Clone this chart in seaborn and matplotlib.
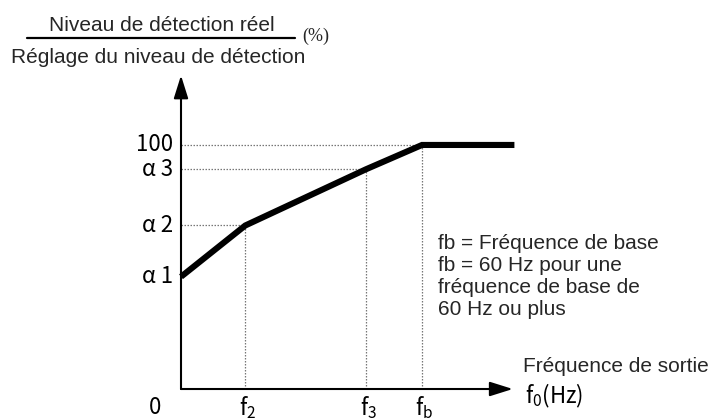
import matplotlib
matplotlib.use("Agg")
import matplotlib.pyplot as plt
import seaborn as sns
import pandas as pd

# Characteristic curve: detection level ratio vs output frequency
freq_points = [0, 16, 46, 60, 83]          # 0, f2, f3, fb, end of flat part (Hz)
level_points = [46, 67, 90, 100, 100]      # alpha1, alpha2, alpha3, 100, 100 (%)

y_tick_values = [100, 90, 67, 46]
y_tick_labels = ["100", "α 3", "α 2", "α 1"]
x_tick_values = [16, 46, 60]
x_tick_labels = [r"$\mathregular{f_2}$", r"$\mathregular{f_3}$", r"$\mathregular{f_b}$"]

note_lines = [
    "fb = Fréquence de base",
    "fb = 60 Hz pour une",
    "fréquence de base de",
    "60 Hz ou plus",
]

sns.set_theme(style="white")
plt.rcParams["font.family"] = ["Liberation Sans", "DejaVu Sans"]

fig = plt.figure(figsize=(7.11, 4.20), dpi=100)
ax = fig.add_axes([0, 0, 1, 1])
ax.set_xlim(-45.06, 131.94)
ax.set_ylim(-12.7, 159.4)
ax.axis("off")

curve = pd.DataFrame({"f": freq_points, "level": level_points})
sns.lineplot(data=curve, x="f", y="level", ax=ax, color="black", lw=4.4,
             sort=False, estimator=None)
for ln in ax.lines:
    ln.set_solid_joinstyle("miter")
    ln.set_solid_capstyle("butt")

# Dotted guide lines to the axes
guide = dict(color="#777777", lw=0.9, ls=(0, (1.2, 1.2)), zorder=1)
for fx, ly in zip(freq_points[1:4], level_points[1:4]):
    ax.plot([0, fx], [ly, ly], **guide)
    ax.plot([fx, fx], [0, ly], **guide)

# Axes with arrow heads
arrow = dict(arrowstyle="-|>,head_length=0.7,head_width=0.22", color="black",
             lw=1.5, shrinkA=0, shrinkB=0, mutation_scale=20)
ax.annotate("", xy=(0, 128.5), xytext=(0, 0), arrowprops=arrow)
ax.annotate("", xy=(82.6, 0), xytext=(0, 0), arrowprops=arrow)

tick_font = dict(family=["Noto Sans CJK JP", "DejaVu Sans"], fontsize=16,
                 color="black")
for v, t in zip(y_tick_values, y_tick_labels):
    ax.text(-2.0, v, t, ha="right", va="center", **tick_font)
for v, t in zip(x_tick_values, x_tick_labels):
    ax.text(v + 0.6, -7.6, t, ha="center", va="center", **tick_font)
ax.text(-6.5, -7.6, "0", ha="center", va="center", **tick_font)

# Y-axis caption as a fraction
ax.text(-4.7, 149.0, "Niveau de détection réel", ha="center", va="center", fontsize=15)
ax.plot([-38.3, 28.4], [143.9, 143.9], color="black", lw=1.6, clip_on=False)
ax.text(-5.7, 135.8, "Réglage du niveau de détection", ha="center", va="center", fontsize=15)
ax.text(30.1, 144.6, "(%)", ha="left", va="center", fontsize=13,
        family=["Liberation Serif", "DejaVu Serif"])

# X-axis caption
ax.text(85.1, 9.4, "Fréquence de sortie", ha="left", va="center", fontsize=15)
ax.text(85.6, -2.9, r"$\mathregular{f_0}$(Hz)", ha="left", va="center", **tick_font)

# Note about base frequency
for i, line in enumerate(note_lines):
    ax.text(64.0, 59.8 - i * 9.1, line, ha="left", va="center", fontsize=15)

fig.savefig("out.png", dpi=100)
